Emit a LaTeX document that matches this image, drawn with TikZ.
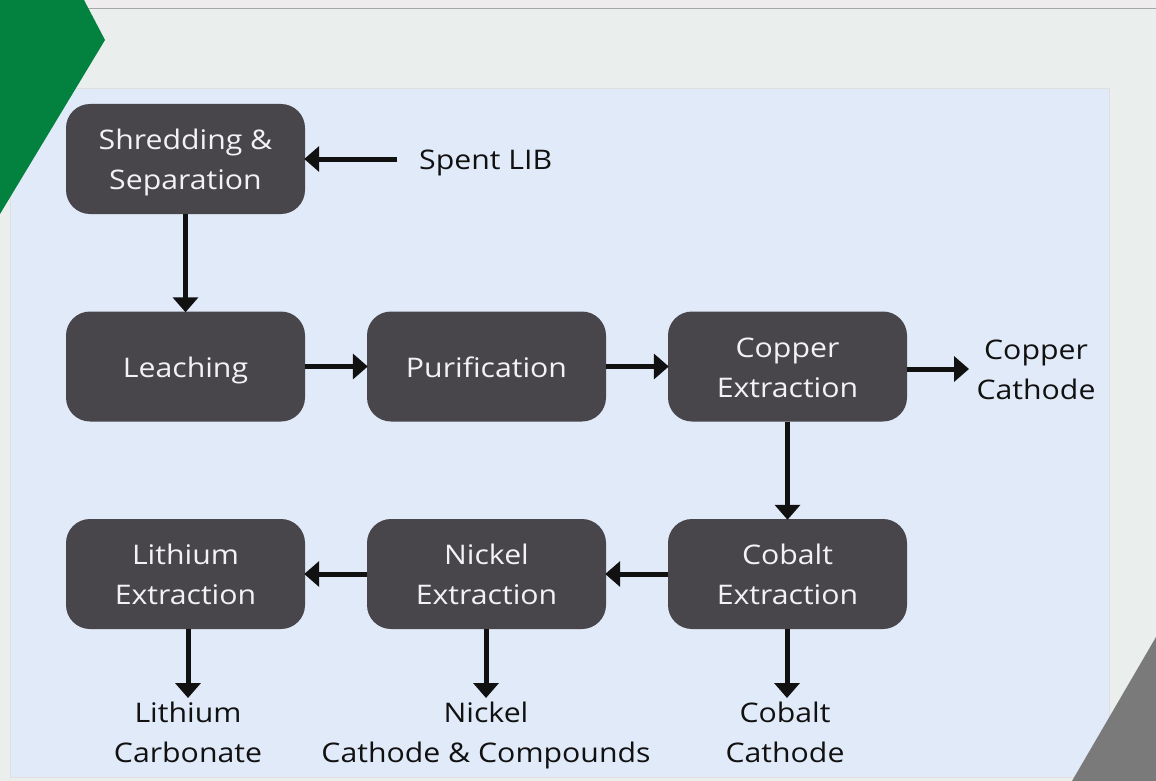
\documentclass[tikz,border=0pt]{standalone}
\usepackage{fontspec}
\setmainfont{Open Sans}[FakeStretch=1.12]
\usetikzlibrary{arrows.meta}
\definecolor{bgtop}{HTML}{EEECEC}
\definecolor{bgmain}{HTML}{EAEFEE}
\definecolor{panel}{HTML}{E1EAF8}
\definecolor{boxfill}{HTML}{48464B}
\definecolor{boxtext}{HTML}{F2F2F4}
\definecolor{chevron}{HTML}{03813E}
\definecolor{corner}{HTML}{7A7A7A}
\definecolor{ink}{HTML}{111111}
\newcommand{\txl}[1]{\strut#1}
\newcommand{\bxl}[1]{\strut\raisebox{-2.5pt}{#1}}
\tikzset{
  procbox/.style={rectangle, rounded corners=24pt, fill=boxfill, text=boxtext,
    minimum width=239pt, minimum height=110pt, align=center, inner sep=0pt,
    font=\fontsize{27}{40}\selectfont},
  outlabel/.style={text=ink, align=center, inner sep=0pt,
    font=\fontsize{27}{40}\selectfont},
  flow/.style={line width=5pt, draw=ink,
    -{Triangle[length=15pt,width=25pt]}, shorten >=-1pt}
}
\begin{document}
\begin{tikzpicture}[x=1pt,y=-1pt]
\useasboundingbox (0,0) rectangle (1156,781);
% background
\fill[bgmain] (0,0) rectangle (1156,781);
\fill[bgtop] (0,0) rectangle (1156,8);
\draw[color=gray!70, line width=1pt] (0,8.5) -- (1156,8.5);
\fill[panel] (10,88) rectangle (1109,777);
\draw[color=gray!25, line width=0.6pt] (10,88) rectangle (1109,777);
% decorations
\fill[chevron] (0,0) -- (84,0) -- (105,40) -- (0,214) -- cycle;
\fill[corner] (1072,781) -- (1156,637) -- (1156,781) -- cycle;
% process boxes
\node[procbox] (shred) at (185.5,159) {\bxl{Shredding \&}\\\bxl{Separation}};
\node[procbox] (leach) at (185.5,366.5) {\bxl{Leaching}};
\node[procbox] (purif) at (486.5,366.5) {\bxl{Purification}};
\node[procbox] (copper) at (787.5,366.5) {\bxl{Copper}\\\bxl{Extraction}};
\node[procbox] (lith) at (185.5,574) {\bxl{Lithium}\\\bxl{Extraction}};
\node[procbox] (nick) at (486.5,574) {\bxl{Nickel}\\\bxl{Extraction}};
\node[procbox] (cob) at (787.5,574) {\bxl{Cobalt}\\\bxl{Extraction}};
% outside labels
\node[outlabel, anchor=west] (spent) at (419,161) {\txl{Spent LIB}};
\node[outlabel] (cucath) at (1036,371) {\txl{Copper}\\\txl{Cathode}};
\node[outlabel] (licarb) at (188,734) {\txl{Lithium}\\\txl{Carbonate}};
\node[outlabel] (nicath) at (486,734) {\txl{Nickel}\\\txl{Cathode \& Compounds}};
\node[outlabel] (cocath) at (785,734) {\txl{Cobalt}\\\txl{Cathode}};
% connectors
\coordinate (spentend) at (397,159);
\draw[flow] (spentend) -- (shred.east |- spentend);
\draw[flow] (shred.south) -- (leach.north);
\draw[flow] (leach.east) -- (purif.west);
\draw[flow] (purif.east) -- (copper.west);
\coordinate (cuend) at (968,369);
\draw[flow] (copper.east |- cuend) -- (cuend);
\draw[flow] (copper.south) -- (cob.north);
\draw[flow] (cob.west) -- (nick.east);
\draw[flow] (nick.west) -- (lith.east);
\coordinate (liend) at (188,697);
\coordinate (niend) at (486,697);
\coordinate (coend) at (787,697);
\draw[flow] (lith.south -| liend) -- (liend);
\draw[flow] (nick.south -| niend) -- (niend);
\draw[flow] (cob.south -| coend) -- (coend);
\end{tikzpicture}
\end{document}
